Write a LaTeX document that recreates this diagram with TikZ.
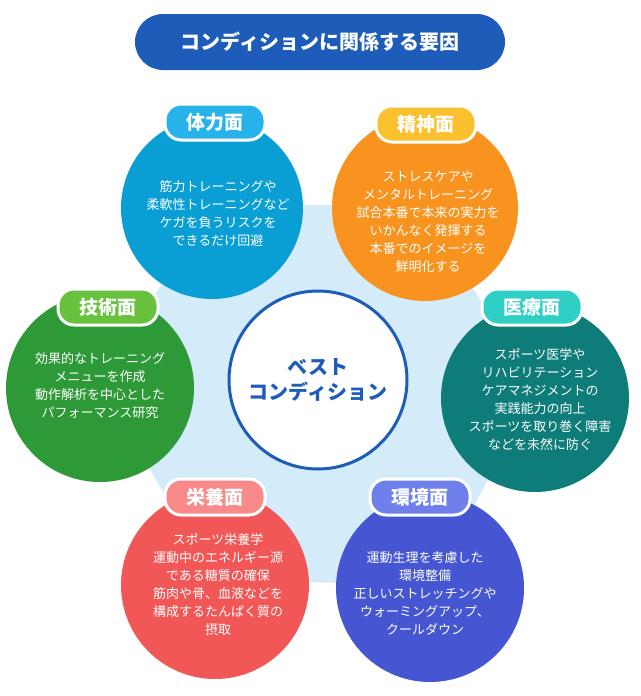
\documentclass[tikz,border=0pt]{standalone}
\usepackage{fontspec}
\setmainfont{Noto Sans CJK JP}
\begin{document}
\begin{tikzpicture}[x=1pt,y=-1pt,
  circ/.style={circle,minimum size=#1,inner sep=0pt},
  body/.style={text=white,font=\fontsize{13}{18}\selectfont,align=center},
  pill/.style={rounded corners=16pt,minimum width=100pt,minimum height=36pt,draw=white,line width=3pt,text=white,font=\fontsize{19}{20}\selectfont\bfseries}]
\useasboundingbox (0,0) rectangle (640,696);
\fill[white] (0,0) rectangle (640,696);
\definecolor{cA}{HTML}{099FD4}\definecolor{lA}{HTML}{27B3EA}
\definecolor{cB}{HTML}{F7931E}\definecolor{lB}{HTML}{FBC02D}
\definecolor{cC}{HTML}{0E7C78}\definecolor{lC}{HTML}{2FCFC6}
\definecolor{cD}{HTML}{2E9A37}\definecolor{lD}{HTML}{68C23D}
\definecolor{cE}{HTML}{F25757}\definecolor{lE}{HTML}{F88A8A}
\definecolor{cF}{HTML}{4656D3}\definecolor{lF}{HTML}{6F80EC}
\definecolor{tb}{HTML}{1D5CB8}\definecolor{hx}{HTML}{D4ECFA}
\node[fill=tb,rounded corners=28pt,minimum width=370pt,minimum height=56pt,text=white,font=\fontsize{20}{21}\selectfont\bfseries] (title) at (320,42) {コンディションに関係する要因};
\fill[hx] (210,205) -- (425,205) -- (535,395) -- (430,585) -- (215,580) -- (100,385) -- cycle;
\node[circ=182pt,fill=cA] (a) at (212,208) {};
\node[circ=186pt,fill=cB] (b) at (425,208) {};
\node[circ=188pt,fill=cC] (c) at (535,398) {};
\node[circ=188pt,fill=cD] (d) at (100,388) {};
\node[circ=188pt,fill=cE] (e) at (215,585) {};
\node[circ=188pt,fill=cF] (f) at (430,588) {};
\node[circ=178pt,fill=white,draw=tb,line width=3pt,text=tb,font=\fontsize{20}{25}\selectfont\bfseries,align=center] (m) at (318,380) {ベスト\\コンディション};
\node[body] at (218,214) {筋力トレーニングや\\柔軟性トレーニングなど\\ケガを負うリスクを\\できるだけ回避};
\node[body] at (428,222) {ストレスケアや\\メンタルトレーニング\\試合本番で本来の実力を\\いかんなく発揮する\\本番でのイメージを\\鮮明化する};
\node[body] at (540,400) {スポーツ医学や\\リハビリテーション\\ケアマネジメントの\\実践能力の向上\\スポーツを取り巻く障害\\などを未然に防ぐ};
\node[body] at (100,386) {効果的なトレーニング\\メニューを作成\\動作解析を中心とした\\パフォーマンス研究};
\node[body] at (218,585) {スポーツ栄養学\\運動中のエネルギー源\\である糖質の確保\\筋肉や骨、血液などを\\構成するたんぱく質の\\摂取};
\node[body] at (425,593) {運動生理を考慮した\\環境整備\\正しいストレッチングや\\ウォーミングアップ、\\クールダウン};
\node[pill,fill=lA] (la) at (215,122) {体力面};
\node[pill,fill=lB] (lb) at (426,124) {精神面};
\node[pill,fill=lC] (lc) at (532,307) {医療面};
\node[pill,fill=lD] (ld) at (108,307) {技術面};
\node[pill,fill=lE] (le) at (215,497) {栄養面};
\node[pill,fill=lF] (lf) at (420,497) {環境面};
\end{tikzpicture}
\end{document}
